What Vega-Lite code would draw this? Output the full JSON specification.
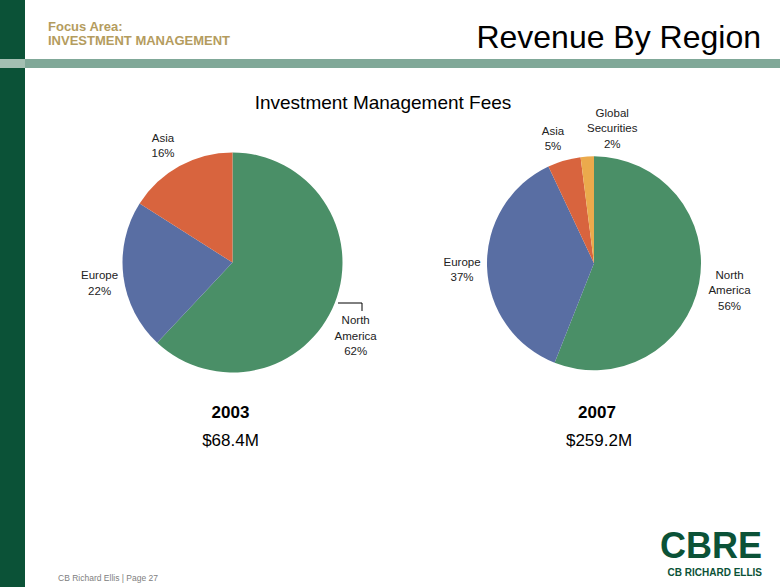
{
  "$schema": "https://vega.github.io/schema/vega-lite/v6.json",
  "width": 780,
  "height": 587,
  "autosize": {"type": "fit", "contains": "padding"},
  "padding": 0,
  "background": "white",
  "config": {"view": {"stroke": null}, "axis": {"disable": true}, "legend": {"disable": true}},
  "datasets": {
    "shares": [
      {"year": "2003", "total": "$68.4M", "region": "North America", "label": "North\nAmerica\n62%", "share": 62, "ord": 1},
      {"year": "2003", "total": "$68.4M", "region": "Europe", "label": "Europe\n22%", "share": 22, "ord": 2},
      {"year": "2003", "total": "$68.4M", "region": "Asia", "label": "Asia\n16%", "share": 16, "ord": 3},
      {"year": "2007", "total": "$259.2M", "region": "North America", "label": "North\nAmerica\n56%", "share": 56, "ord": 1},
      {"year": "2007", "total": "$259.2M", "region": "Europe", "label": "Europe\n37%", "share": 37, "ord": 2},
      {"year": "2007", "total": "$259.2M", "region": "Asia", "label": "Asia\n5%", "share": 5, "ord": 3},
      {"year": "2007", "total": "$259.2M", "region": "Global Securities", "label": "Global\nSecurities\n2%", "share": 2, "ord": 4}
    ]
  },
  "layer": [
    {
      "data": {"values": [{}]},
      "mark": {"type": "rect", "color": "#0B5237"},
      "encoding": {
        "x": {"datum": 0, "type": "quantitative", "scale": {"domain": [0, 780], "nice": false, "zero": false}},
        "x2": {"datum": 25},
        "y": {"datum": 0, "type": "quantitative", "scale": {"domain": [0, 587], "nice": false, "zero": false, "reverse": true}},
        "y2": {"datum": 587}
      }
    },
    {
      "data": {"values": [{}]},
      "mark": {"type": "rect", "color": "#80A898"},
      "encoding": {"x": {"datum": 25, "type": "quantitative"}, "x2": {"datum": 780}, "y": {"datum": 59, "type": "quantitative"}, "y2": {"datum": 68}}
    },
    {
      "data": {"values": [{}]},
      "mark": {"type": "rect", "color": "#A3BFB2"},
      "encoding": {"x": {"datum": 0, "type": "quantitative"}, "x2": {"datum": 25}, "y": {"datum": 59, "type": "quantitative"}, "y2": {"datum": 68}}
    },
    {
      "data": {"values": [{}]},
      "mark": {"type": "text", "text": "Focus Area:", "font": "Liberation Sans", "fontSize": 13, "fontWeight": "bold", "color": "#B49C5E", "align": "left", "baseline": "alphabetic"},
      "encoding": {"x": {"datum": 48, "type": "quantitative"}, "y": {"datum": 31, "type": "quantitative"}}
    },
    {
      "data": {"values": [{}]},
      "mark": {"type": "text", "text": "INVESTMENT MANAGEMENT", "font": "Liberation Sans", "fontSize": 13, "fontWeight": "bold", "color": "#B49C5E", "align": "left", "baseline": "alphabetic"},
      "encoding": {"x": {"datum": 48, "type": "quantitative"}, "y": {"datum": 45, "type": "quantitative"}}
    },
    {
      "data": {"values": [{}]},
      "mark": {"type": "text", "text": "Revenue By Region", "font": "Liberation Sans", "fontSize": 32, "color": "#000000", "align": "right", "baseline": "alphabetic"},
      "encoding": {"x": {"datum": 761, "type": "quantitative"}, "y": {"datum": 48, "type": "quantitative"}}
    },
    {
      "data": {"values": [{}]},
      "mark": {"type": "text", "text": "Investment Management Fees", "font": "Liberation Sans", "fontSize": 19, "color": "#000000", "align": "center", "baseline": "alphabetic"},
      "encoding": {"x": {"datum": 383, "type": "quantitative"}, "y": {"datum": 109, "type": "quantitative"}}
    },
    {
      "data": {"name": "shares"},
      "transform": [{"filter": "datum.year === '2003'"}],
      "mark": {"type": "arc", "outerRadius": 110},
      "encoding": {
        "x": {"datum": 232.5, "type": "quantitative"},
        "y": {"datum": 262.5, "type": "quantitative"},
        "theta": {"field": "share", "type": "quantitative", "stack": true},
        "order": {"field": "ord", "type": "quantitative"},
        "color": {"field": "region", "type": "nominal", "scale": {"domain": ["North America", "Europe", "Asia", "Global Securities"], "range": ["#4A8F67", "#596EA3", "#D8643E", "#EBAA4C"]}}
      }
    },
    {
      "data": {"name": "shares"},
      "transform": [{"filter": "datum.year === '2007'"}],
      "mark": {"type": "arc", "outerRadius": 107},
      "encoding": {
        "x": {"datum": 594, "type": "quantitative"},
        "y": {"datum": 263.3, "type": "quantitative"},
        "theta": {"field": "share", "type": "quantitative", "stack": true},
        "order": {"field": "ord", "type": "quantitative"},
        "color": {"field": "region", "type": "nominal"}
      }
    },
    {
      "data": {"name": "shares"},
      "transform": [{"filter": "datum.year === '2003'"}],
      "mark": {"type": "text", "radius": 140, "dx": -7, "dy": 7, "font": "Liberation Sans", "fontSize": 11.5, "lineHeight": 15.5, "lineBreak": "\n", "color": "#222222", "align": "center", "baseline": "middle"},
      "encoding": {
        "x": {"datum": 232.5, "type": "quantitative"},
        "y": {"datum": 262.5, "type": "quantitative"},
        "theta": {"field": "share", "type": "quantitative", "stack": true},
        "order": {"field": "ord", "type": "quantitative"},
        "text": {"condition": {"test": "datum.region === 'North America'", "field": "label"}, "value": ""}
      }
    },
    {
      "data": {"name": "shares"},
      "transform": [{"filter": "datum.year === '2003'"}],
      "mark": {"type": "text", "radius": 140, "dx": 6, "dy": -4, "font": "Liberation Sans", "fontSize": 11.5, "lineHeight": 15.5, "lineBreak": "\n", "color": "#222222", "align": "center", "baseline": "middle"},
      "encoding": {
        "x": {"datum": 232.5, "type": "quantitative"},
        "y": {"datum": 262.5, "type": "quantitative"},
        "theta": {"field": "share", "type": "quantitative", "stack": true},
        "order": {"field": "ord", "type": "quantitative"},
        "text": {"condition": {"test": "datum.region === 'Europe'", "field": "label"}, "value": ""}
      }
    },
    {
      "data": {"name": "shares"},
      "transform": [{"filter": "datum.year === '2003'"}],
      "mark": {"type": "text", "radius": 140, "dx": -2, "dy": -1, "font": "Liberation Sans", "fontSize": 11.5, "lineHeight": 15.5, "lineBreak": "\n", "color": "#222222", "align": "center", "baseline": "middle"},
      "encoding": {
        "x": {"datum": 232.5, "type": "quantitative"},
        "y": {"datum": 262.5, "type": "quantitative"},
        "theta": {"field": "share", "type": "quantitative", "stack": true},
        "order": {"field": "ord", "type": "quantitative"},
        "text": {"condition": {"test": "datum.region === 'Asia'", "field": "label"}, "value": ""}
      }
    },
    {
      "data": {"name": "shares"},
      "transform": [{"filter": "datum.year === '2007'"}],
      "mark": {"type": "text", "radius": 140, "dx": -2, "dy": -14, "font": "Liberation Sans", "fontSize": 11.5, "lineHeight": 15.5, "lineBreak": "\n", "color": "#222222", "align": "center", "baseline": "middle"},
      "encoding": {
        "x": {"datum": 594, "type": "quantitative"},
        "y": {"datum": 263.3, "type": "quantitative"},
        "theta": {"field": "share", "type": "quantitative", "stack": true},
        "order": {"field": "ord", "type": "quantitative"},
        "text": {"condition": {"test": "datum.region === 'North America'", "field": "label"}, "value": ""}
      }
    },
    {
      "data": {"name": "shares"},
      "transform": [{"filter": "datum.year === '2007'"}],
      "mark": {"type": "text", "radius": 140, "dx": 8, "dy": -5, "font": "Liberation Sans", "fontSize": 11.5, "lineHeight": 15.5, "lineBreak": "\n", "color": "#222222", "align": "center", "baseline": "middle"},
      "encoding": {
        "x": {"datum": 594, "type": "quantitative"},
        "y": {"datum": 263.3, "type": "quantitative"},
        "theta": {"field": "share", "type": "quantitative", "stack": true},
        "order": {"field": "ord", "type": "quantitative"},
        "text": {"condition": {"test": "datum.region === 'Europe'", "field": "label"}, "value": ""}
      }
    },
    {
      "data": {"name": "shares"},
      "transform": [{"filter": "datum.year === '2007'"}],
      "mark": {"type": "text", "radius": 140, "dx": -2, "dy": 3, "font": "Liberation Sans", "fontSize": 11.5, "lineHeight": 15.5, "lineBreak": "\n", "color": "#222222", "align": "center", "baseline": "middle"},
      "encoding": {
        "x": {"datum": 594, "type": "quantitative"},
        "y": {"datum": 263.3, "type": "quantitative"},
        "theta": {"field": "share", "type": "quantitative", "stack": true},
        "order": {"field": "ord", "type": "quantitative"},
        "text": {"condition": {"test": "datum.region === 'Asia'", "field": "label"}, "value": ""}
      }
    },
    {
      "data": {"name": "shares"},
      "transform": [{"filter": "datum.year === '2007'"}],
      "mark": {"type": "text", "radius": 140, "dx": 27, "dy": -10, "font": "Liberation Sans", "fontSize": 11.5, "lineHeight": 15.5, "lineBreak": "\n", "color": "#222222", "align": "center", "baseline": "middle"},
      "encoding": {
        "x": {"datum": 594, "type": "quantitative"},
        "y": {"datum": 263.3, "type": "quantitative"},
        "theta": {"field": "share", "type": "quantitative", "stack": true},
        "order": {"field": "ord", "type": "quantitative"},
        "text": {"condition": {"test": "datum.region === 'Global Securities'", "field": "label"}, "value": ""}
      }
    },
    {
      "data": {"values": [{}]},
      "mark": {"type": "rule", "color": "#000000", "strokeWidth": 1},
      "encoding": {"x": {"datum": 338, "type": "quantitative"}, "x2": {"datum": 362}, "y": {"datum": 303, "type": "quantitative"}}
    },
    {
      "data": {"values": [{}]},
      "mark": {"type": "rule", "color": "#000000", "strokeWidth": 1},
      "encoding": {"x": {"datum": 362, "type": "quantitative"}, "y": {"datum": 303, "type": "quantitative"}, "y2": {"datum": 311}}
    },
    {
      "data": {"name": "shares"},
      "transform": [{"filter": "datum.year === '2003' && datum.ord === 1"}],
      "mark": {"type": "text", "font": "Liberation Sans", "fontSize": 17, "fontWeight": "bold", "color": "#000000", "align": "center", "baseline": "alphabetic"},
      "encoding": {"x": {"datum": 230.5, "type": "quantitative"}, "y": {"datum": 418, "type": "quantitative"}, "text": {"field": "year"}}
    },
    {
      "data": {"name": "shares"},
      "transform": [{"filter": "datum.year === '2003' && datum.ord === 1"}],
      "mark": {"type": "text", "font": "Liberation Sans", "fontSize": 17, "color": "#000000", "align": "center", "baseline": "alphabetic"},
      "encoding": {"x": {"datum": 230.5, "type": "quantitative"}, "y": {"datum": 446, "type": "quantitative"}, "text": {"field": "total"}}
    },
    {
      "data": {"name": "shares"},
      "transform": [{"filter": "datum.year === '2007' && datum.ord === 1"}],
      "mark": {"type": "text", "font": "Liberation Sans", "fontSize": 17, "fontWeight": "bold", "color": "#000000", "align": "center", "baseline": "alphabetic"},
      "encoding": {"x": {"datum": 597, "type": "quantitative"}, "y": {"datum": 418, "type": "quantitative"}, "text": {"field": "year"}}
    },
    {
      "data": {"name": "shares"},
      "transform": [{"filter": "datum.year === '2007' && datum.ord === 1"}],
      "mark": {"type": "text", "font": "Liberation Sans", "fontSize": 17, "color": "#000000", "align": "center", "baseline": "alphabetic"},
      "encoding": {"x": {"datum": 599, "type": "quantitative"}, "y": {"datum": 446, "type": "quantitative"}, "text": {"field": "total"}}
    },
    {
      "data": {"values": [{}]},
      "mark": {"type": "text", "text": "CB Richard Ellis | Page 27", "font": "Liberation Sans", "fontSize": 8.5, "color": "#808080", "align": "left", "baseline": "alphabetic"},
      "encoding": {"x": {"datum": 58, "type": "quantitative"}, "y": {"datum": 581, "type": "quantitative"}}
    },
    {
      "data": {"values": [{}]},
      "mark": {"type": "text", "text": "CBRE", "font": "Liberation Sans", "fontSize": 36, "fontWeight": "bold", "color": "#0B5237", "align": "right", "baseline": "alphabetic"},
      "encoding": {"x": {"datum": 762, "type": "quantitative"}, "y": {"datum": 558, "type": "quantitative"}}
    },
    {
      "data": {"values": [{}]},
      "mark": {"type": "text", "text": "CB RICHARD ELLIS", "font": "Liberation Sans", "fontSize": 10, "fontWeight": "bold", "color": "#0B5237", "align": "right", "baseline": "alphabetic"},
      "encoding": {"x": {"datum": 762, "type": "quantitative"}, "y": {"datum": 576, "type": "quantitative"}}
    }
  ]
}
